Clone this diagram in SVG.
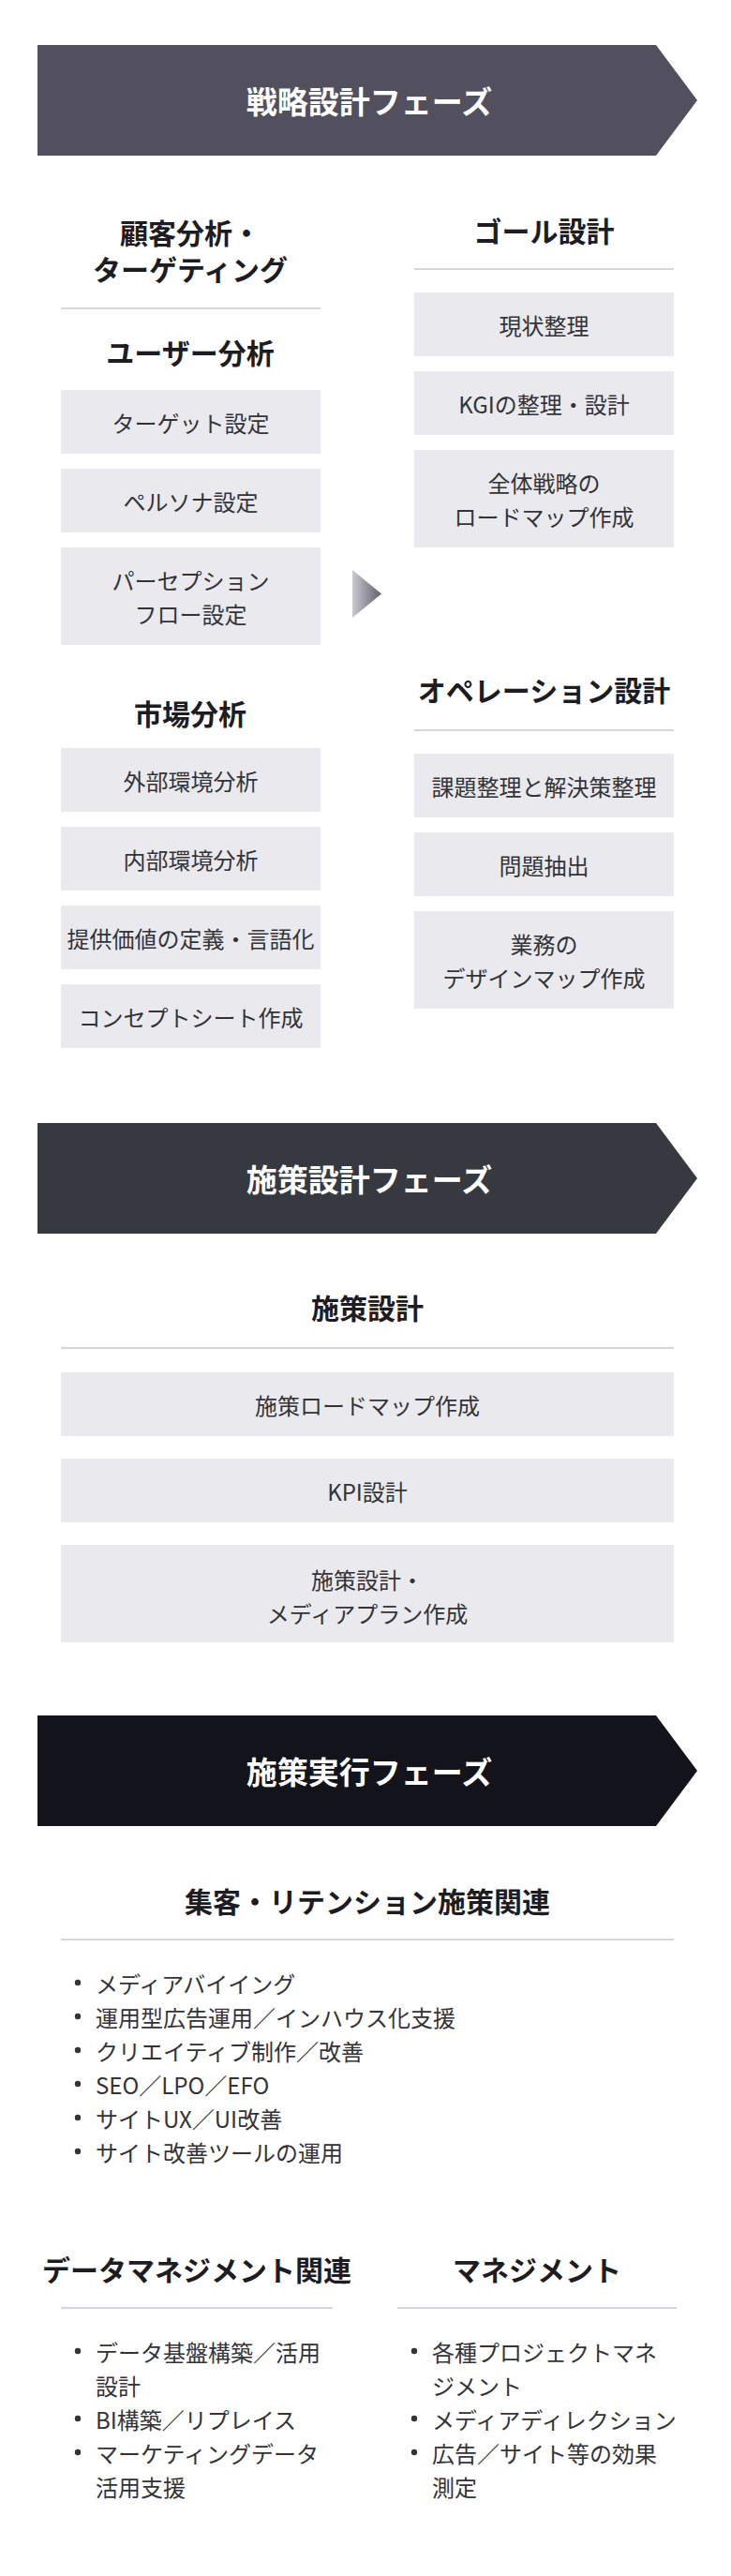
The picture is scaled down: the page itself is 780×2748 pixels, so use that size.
<svg xmlns="http://www.w3.org/2000/svg" width="780" height="2748" viewBox="0 0 780 2748">
<style>
text{font-family:"Noto Sans CJK JP","Noto Sans",sans-serif;dominant-baseline:central}
.ban{font-size:33px;font-weight:700;fill:#ffffff;text-anchor:middle}
.h{font-size:30px;font-weight:700;fill:#1c1c22;text-anchor:middle}
.bx{fill:#e9e9ee}
.t{font-size:24px;fill:#333338;text-anchor:middle}
.li{font-size:24px;fill:#333338}
.rule{stroke:#d6d6de;stroke-width:2}
.dot{fill:#333338}
</style>
<defs>
<linearGradient id="tri" x1="0" y1="0" x2="1" y2="0">
<stop offset="0" stop-color="#c9c9d1"/>
<stop offset="1" stop-color="#5f5e6c"/>
</linearGradient>
</defs>
<rect width="780" height="2748" fill="#ffffff"/>

<g id="phase1">
<polygon points="40,48 700,48 744,107 700,166 40,166" fill="#52505f"/>
<text class="ban" x="394" y="107">戦略設計フェーズ</text>
</g>

<g id="customer-analysis">
<text class="h" x="203" y="247">顧客分析・</text>
<text class="h" x="203" y="286">ターゲティング</text>
<line class="rule" x1="65" y1="329" x2="342" y2="329"/>
</g>

<g id="user-analysis">
<text class="h" x="203" y="375">ユーザー分析</text>
<g id="target"><rect class="bx" x="65" y="416" width="277" height="68"/><text class="t" x="203.5" y="450">ターゲット設定</text></g>
<g id="persona"><rect class="bx" x="65" y="500" width="277" height="68"/><text class="t" x="203.5" y="534">ペルソナ設定</text></g>
<g id="perception"><rect class="bx" x="65" y="584" width="277" height="104"/><text class="t" x="203.5" y="618">パーセプション</text><text class="t" x="203.5" y="654">フロー設定</text></g>
</g>

<g id="market-analysis">
<text class="h" x="203" y="760">市場分析</text>
<g id="external"><rect class="bx" x="65" y="798" width="277" height="68"/><text class="t" x="203.5" y="832">外部環境分析</text></g>
<g id="internal"><rect class="bx" x="65" y="882" width="277" height="68"/><text class="t" x="203.5" y="916">内部環境分析</text></g>
<g id="value"><rect class="bx" x="65" y="966" width="277" height="68"/><text class="t" x="203.5" y="1000">提供価値の定義・言語化</text></g>
<g id="concept"><rect class="bx" x="65" y="1050" width="277" height="68"/><text class="t" x="203.5" y="1084">コンセプトシート作成</text></g>
</g>

<g id="connectors">
<polygon points="376,608 407,633.5 376,659" fill="url(#tri)"/>
</g>

<g id="goal-design">
<text class="h" x="580.5" y="245">ゴール設計</text>
<line class="rule" x1="442" y1="287" x2="719" y2="287"/>
<g id="current"><rect class="bx" x="442" y="312" width="277" height="68"/><text class="t" x="580.5" y="346">現状整理</text></g>
<g id="kgi"><rect class="bx" x="442" y="396" width="277" height="68"/><text class="t" x="580.5" y="430">KGIの整理・設計</text></g>
<g id="roadmap"><rect class="bx" x="442" y="480" width="277" height="104"/><text class="t" x="580.5" y="514">全体戦略の</text><text class="t" x="580.5" y="550">ロードマップ作成</text></g>
</g>

<g id="operation-design">
<text class="h" x="580.5" y="735">オペレーション設計</text>
<line class="rule" x1="442" y1="779" x2="719" y2="779"/>
<g id="issues"><rect class="bx" x="442" y="804" width="277" height="68"/><text class="t" x="580.5" y="838">課題整理と解決策整理</text></g>
<g id="problems"><rect class="bx" x="442" y="888" width="277" height="68"/><text class="t" x="580.5" y="922">問題抽出</text></g>
<g id="design-map"><rect class="bx" x="442" y="972" width="277" height="104"/><text class="t" x="580.5" y="1006">業務の</text><text class="t" x="580.5" y="1042">デザインマップ作成</text></g>
</g>

<g id="phase2">
<polygon points="40,1198 700,1198 744,1257 700,1316 40,1316" fill="#363a40"/>
<text class="ban" x="394" y="1257">施策設計フェーズ</text>
</g>

<g id="measure-design">
<text class="h" x="392" y="1394">施策設計</text>
<line class="rule" x1="65" y1="1438" x2="719" y2="1438"/>
<g id="measure-roadmap"><rect class="bx" x="65" y="1464" width="654" height="68"/><text class="t" x="392" y="1498">施策ロードマップ作成</text></g>
<g id="kpi"><rect class="bx" x="65" y="1556" width="654" height="68"/><text class="t" x="392" y="1590">KPI設計</text></g>
<g id="media-plan"><rect class="bx" x="65" y="1648" width="654" height="104"/><text class="t" x="392" y="1684">施策設計・</text><text class="t" x="392" y="1720">メディアプラン作成</text></g>
</g>

<g id="phase3">
<polygon points="40,1830 700,1830 744,1889 700,1948 40,1948" fill="#13131c"/>
<text class="ban" x="394" y="1889">施策実行フェーズ</text>
</g>

<g id="acquisition">
<text class="h" x="392" y="2027">集客・リテンション施策関連</text>
<line class="rule" x1="65" y1="2069" x2="719" y2="2069"/>
<circle class="dot" cx="83" cy="2115" r="3.2"/><text class="li" x="102" y="2115">メディアバイイング</text>
<circle class="dot" cx="83" cy="2151" r="3.2"/><text class="li" x="102" y="2151">運用型広告運用／インハウス化支援</text>
<circle class="dot" cx="83" cy="2187" r="3.2"/><text class="li" x="102" y="2187">クリエイティブ制作／改善</text>
<circle class="dot" cx="83" cy="2223" r="3.2"/><text class="li" x="102" y="2223">SEO／LPO／EFO</text>
<circle class="dot" cx="83" cy="2259" r="3.2"/><text class="li" x="102" y="2259">サイトUX／UI改善</text>
<circle class="dot" cx="83" cy="2295" r="3.2"/><text class="li" x="102" y="2295">サイト改善ツールの運用</text>
</g>

<g id="data-management">
<text class="h" x="210" y="2420">データマネジメント関連</text>
<line class="rule" x1="65" y1="2462" x2="355" y2="2462"/>
<circle class="dot" cx="83" cy="2508" r="3.2"/><text class="li" x="102" y="2508">データ基盤構築／活用</text>
<text class="li" x="102" y="2544">設計</text>
<circle class="dot" cx="83" cy="2580" r="3.2"/><text class="li" x="102" y="2580">BI構築／リプレイス</text>
<circle class="dot" cx="83" cy="2616" r="3.2"/><text class="li" x="102" y="2616">マーケティングデータ</text>
<text class="li" x="102" y="2652">活用支援</text>
</g>

<g id="management">
<text class="h" x="573" y="2420">マネジメント</text>
<line class="rule" x1="424" y1="2462" x2="722" y2="2462"/>
<circle class="dot" cx="442" cy="2508" r="3.2"/><text class="li" x="461" y="2508">各種プロジェクトマネ</text>
<text class="li" x="461" y="2544">ジメント</text>
<circle class="dot" cx="442" cy="2580" r="3.2"/><text class="li" x="461" y="2580">メディアディレクション</text>
<circle class="dot" cx="442" cy="2616" r="3.2"/><text class="li" x="461" y="2616">広告／サイト等の効果</text>
<text class="li" x="461" y="2652">測定</text>
</g>
</svg>
